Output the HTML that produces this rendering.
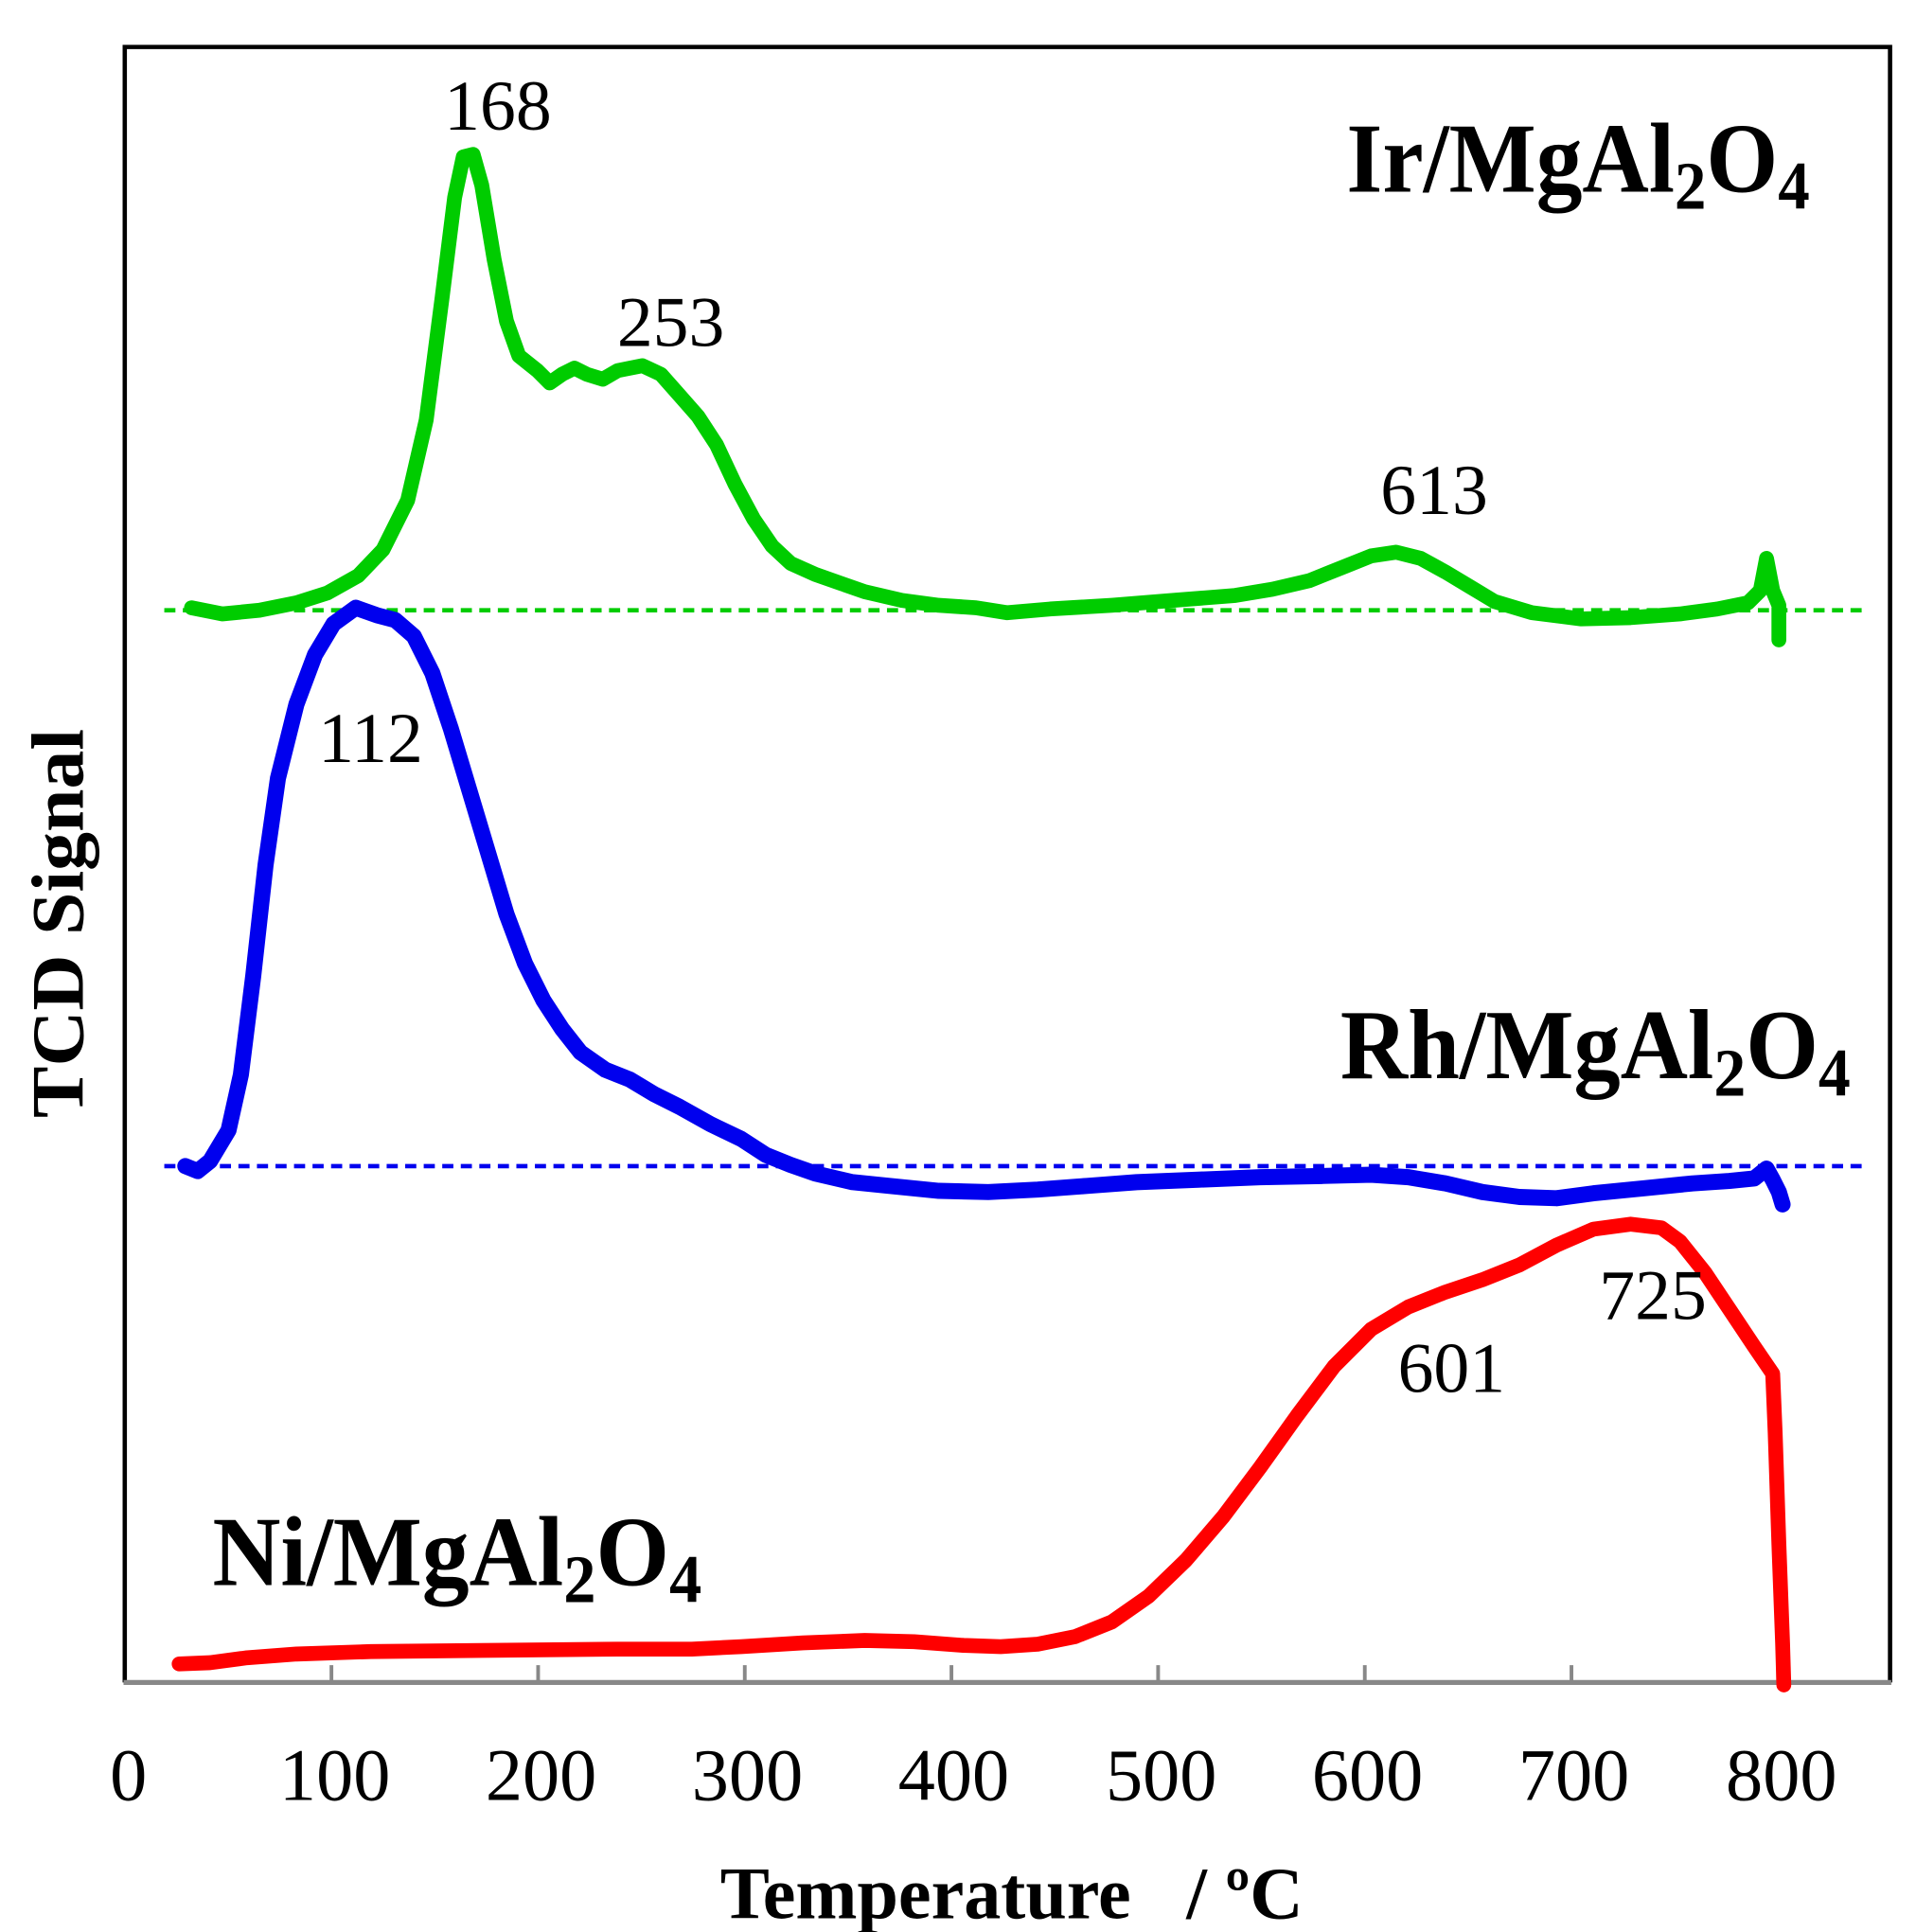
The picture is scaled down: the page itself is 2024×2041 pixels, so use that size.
<!DOCTYPE html>
<html><head><meta charset="utf-8"><style>
html,body{margin:0;padding:0;background:#fff}
svg{display:block}
text{font-family:"Liberation Serif",serif;fill:#000}
</style></head><body>
<svg width="2024" height="2041" viewBox="0 0 1551 1564" xmlns="http://www.w3.org/2000/svg">
<polyline points="101,1362 101,38 1530,38 1530,1362" fill="none" stroke="#000" stroke-width="3.5"/>
<line x1="100" y1="1362" x2="1531" y2="1362" stroke="#888" stroke-width="4"/>
<g stroke="#888" stroke-width="3">
<line x1="268.3" y1="1348" x2="268.3" y2="1362"/><line x1="435.6" y1="1348" x2="435.6" y2="1362"/>
<line x1="602.9" y1="1348" x2="602.9" y2="1362"/><line x1="770.2" y1="1348" x2="770.2" y2="1362"/>
<line x1="937.5" y1="1348" x2="937.5" y2="1362"/><line x1="1104.8" y1="1348" x2="1104.8" y2="1362"/>
<line x1="1272.1" y1="1348" x2="1272.1" y2="1362"/><line x1="1439.4" y1="1348" x2="1439.4" y2="1362"/>
</g>
<g font-size="60" text-anchor="middle">
<text x="104" y="1457">0</text><text x="271" y="1457">100</text><text x="438" y="1457">200</text>
<text x="605" y="1457">300</text><text x="772" y="1457">400</text><text x="940" y="1457">500</text>
<text x="1107" y="1457">600</text><text x="1274" y="1457">700</text><text x="1442" y="1457">800</text>
</g>
<text x="583" y="1553" font-size="60" font-weight="bold" textLength="472" lengthAdjust="spacingAndGlyphs">Temperature &#160;&#160;/ ºC</text>
<text transform="translate(67,905) rotate(-90)" font-size="60" font-weight="bold" textLength="315" lengthAdjust="spacingAndGlyphs">TCD Signal</text>

<line x1="133" y1="494" x2="1512" y2="494" stroke="#00cc00" stroke-width="3.5" stroke-dasharray="9,6"/>
<line x1="133" y1="944" x2="1512" y2="944" stroke="#0000ee" stroke-width="3.5" stroke-dasharray="9,6"/>

<g fill="none" stroke-linejoin="round" stroke-linecap="round">
<polyline stroke="#00cc00" stroke-width="12" points="155,492 180,497 210,494 240,488 265,480 290,466 310,445 330,405 345,340 358,240 368,160 375,127 383,125 390,150 400,210 410,260 420,288 435,300 445,310 455,303 465,298 475,303 488,307 500,300 520,296 535,303 550,320 565,337 580,360 595,392 610,420 625,442 640,456 660,465 680,472 700,479 730,486 760,490 790,492 815,496 850,493 900,490 950,486 1000,482 1030,477 1060,470 1090,458 1110,450 1130,447 1150,452 1170,463 1190,475 1210,487 1240,496 1280,501 1320,500 1360,497 1390,493 1415,488 1425,478 1430,452 1435,478 1440,490 1440,518"/>
<polyline stroke="#0000ee" stroke-width="13" points="150,944 160,948 170,940 185,915 195,870 205,790 215,700 225,630 240,570 255,530 270,505 288,492 305,498 320,502 335,515 350,545 365,590 380,640 395,690 410,740 425,780 440,810 455,833 470,852 490,866 510,874 530,886 550,896 575,910 600,922 620,935 640,943 660,950 690,957 720,960 760,964 800,965 840,963 880,960 920,957 970,955 1020,953 1070,952 1110,951 1140,953 1170,958 1200,965 1230,969 1260,970 1290,966 1330,962 1370,958 1400,956 1420,954 1430,946 1435,955 1440,965 1443,975"/>
<polyline stroke="#ff0000" stroke-width="12" points="145,1347 170,1346 200,1342 240,1339 300,1337 400,1336 500,1335 560,1335 600,1333 650,1330 700,1328 740,1329 780,1332 810,1333 840,1331 870,1325 900,1313 930,1292 960,1263 990,1228 1020,1188 1050,1146 1080,1106 1110,1076 1140,1058 1170,1046 1200,1036 1230,1024 1260,1008 1290,995 1320,991 1345,994 1360,1005 1380,1030 1400,1060 1420,1090 1435,1112 1437,1160 1440,1250 1443,1330 1444,1364"/>
</g>

<g font-size="58" text-anchor="middle">
<text x="403" y="105">168</text><text x="543" y="280">253</text><text x="1161" y="416">613</text>
<text x="300" y="617">112</text><text x="1338" y="1068">725</text><text x="1175" y="1127">601</text>
</g>
<g font-size="80" font-weight="bold">
<text x="1090" y="155" textLength="375" lengthAdjust="spacingAndGlyphs">Ir/MgAl<tspan font-size="55" dy="14">2</tspan><tspan dy="-14">O</tspan><tspan font-size="55" dy="14">4</tspan></text>
<text x="1085" y="873" textLength="413" lengthAdjust="spacingAndGlyphs">Rh/MgAl<tspan font-size="55" dy="14">2</tspan><tspan dy="-14">O</tspan><tspan font-size="55" dy="14">4</tspan></text>
<text x="172" y="1283" textLength="396" lengthAdjust="spacingAndGlyphs">Ni/MgAl<tspan font-size="55" dy="14">2</tspan><tspan dy="-14">O</tspan><tspan font-size="55" dy="14">4</tspan></text>
</g>
</svg>
</body></html>
